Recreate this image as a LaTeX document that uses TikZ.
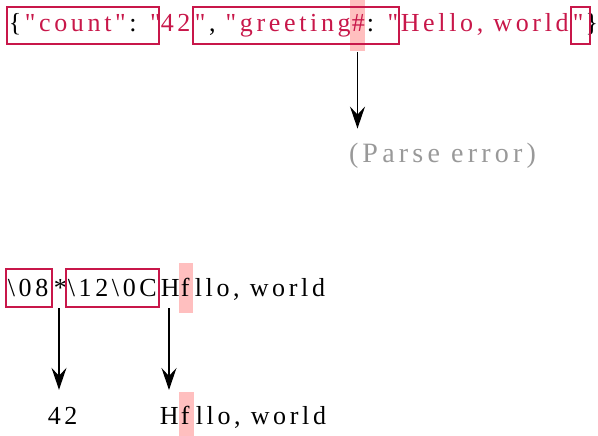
\documentclass[tikz,border=0pt]{standalone}
\usepackage{fontspec}
\newfontfamily\codefont[LetterSpace=14]{Liberation Serif}
\newfontfamily\notefont[LetterSpace=15]{Liberation Serif}
\usetikzlibrary{arrows.meta,calc,backgrounds}
\definecolor{jsonred}{HTML}{C8174A}
\definecolor{hlpink}{HTML}{FFBFBF}
\definecolor{errgray}{HTML}{999999}
% half of the tracking in front of each piece
\newcommand\segtext[1]{\kern.07em#1}
% tracking across a change of colour
\newcommand\gap{\kern.14em}
\tikzset{
  seg/.style={inner sep=0pt, outer sep=0pt, anchor=base west,
    font=\codefont\fontsize{26}{30}\selectfont},
  frame/.style={draw=jsonred, line width=1.3pt},
  hl/.style={fill=hlpink, draw=none},
  arr/.style={line width=1.3pt, -{Stealth[length=22pt,width=15pt,inset=8pt]}},
}
\begin{document}
\begin{tikzpicture}[x=1pt,y=1pt]
\useasboundingbox (0,0) rectangle (598,-436);

% JSON input line
\node[seg] (t1) at (7,-32) {\segtext{\{\gap\textcolor{jsonred}{"count"}\gap: \textcolor{jsonred}{"}}};
\node[seg, text=jsonred] (t2) at (159,-32) {\segtext{42}};
\node[seg] (t3) at (193,-32) {\segtext{\textcolor{jsonred}{"}\gap, \textcolor{jsonred}{"greeting}}};
\node[seg, text=jsonred] (t4) at (350,-32) {\segtext{\#}};
\node[seg] (t5) at (365,-32) {\segtext{: \textcolor{jsonred}{"}}};
\node[seg, text=jsonred] (t6) at (399,-32) {\segtext{Hello, world}};
\node[seg, text=jsonred] (t7) at (571,-32) {\segtext{"}};
\node[seg, anchor=base east] (t8) at (598,-32) {\}};

\draw[frame] ($(t1.base west)+(0,25)$) rectangle ($(t2.base west)+(0,-12)$);
\draw[frame] ($(t3.base west)+(0,25)$) rectangle ($(t6.base west)+(0,-12)$);
\draw[frame] ($(t7.base west)+(0,25)$) rectangle ($(t7.base west)+(19,-12)$);

% parse error branch
\node[seg, font=\notefont\fontsize{28}{32}\selectfont, text=errgray] (perr) at (349,-162) {(Parse error)};
\coordinate (hashfoot) at ($(t4.base west)!.5!(t5.base west)+(0,-20)$);
\draw[arr] (hashfoot) -- ($(hashfoot |- perr.north)+(0,14)$);

% escaped byte line
\node[seg] (b1) at (6,-296) {\segtext{\textbackslash 08}};
\node[seg] (b2) at (52,-296) {\segtext{*}};
\node[seg] (b3) at (66,-296) {\segtext{\textbackslash 12\textbackslash 0C}};
\node[seg] (b4) at (159,-296) {\segtext{H}};
\node[seg] (b5) at (179,-296) {\segtext{f}};
\node[seg] (b6) at (193,-296) {\segtext{llo, world}};

\draw[frame] ($(b1.base west)+(0,27)$) rectangle ($(b2.base west)+(0,-11)$);
\draw[frame] ($(b3.base west)+(0,27)$) rectangle ($(b4.base west)+(0,-11)$);

% decoded values
\node[seg] (r1) at (46,-424) {\segtext{42}};
\node[seg] (r2) at (158,-424) {\segtext{H}};
\node[seg] (r3) at (179,-424) {\segtext{f}};
\node[seg] (r4) at (194,-424) {\segtext{llo, world}};

\coordinate (starfoot) at ($(b2.base west)!.5!(b3.base west)+(0,-12)$);
\coordinate (hfoot) at ($(b4.base west)!.5!(b5.base west)+(0,-12)$);
\draw[arr] (starfoot) -- ($(starfoot |- r1.north)+(0,17)$);
\draw[arr] (hfoot) -- ($(hfoot |- r2.north)+(0,17)$);

\begin{scope}[on background layer]
  \fill[hl] ($(t4.base west)+(0,32)$) rectangle ($(t5.base west)+(0,-19)$);
  \fill[hl] ($(b5.base west)+(0,33)$) rectangle ($(b6.base west)+(0,-17)$);
  \fill[hl] ($(r3.base west)+(0,32)$) rectangle ($(r4.base west)+(0,-14)$);
\end{scope}
\end{tikzpicture}
\end{document}
